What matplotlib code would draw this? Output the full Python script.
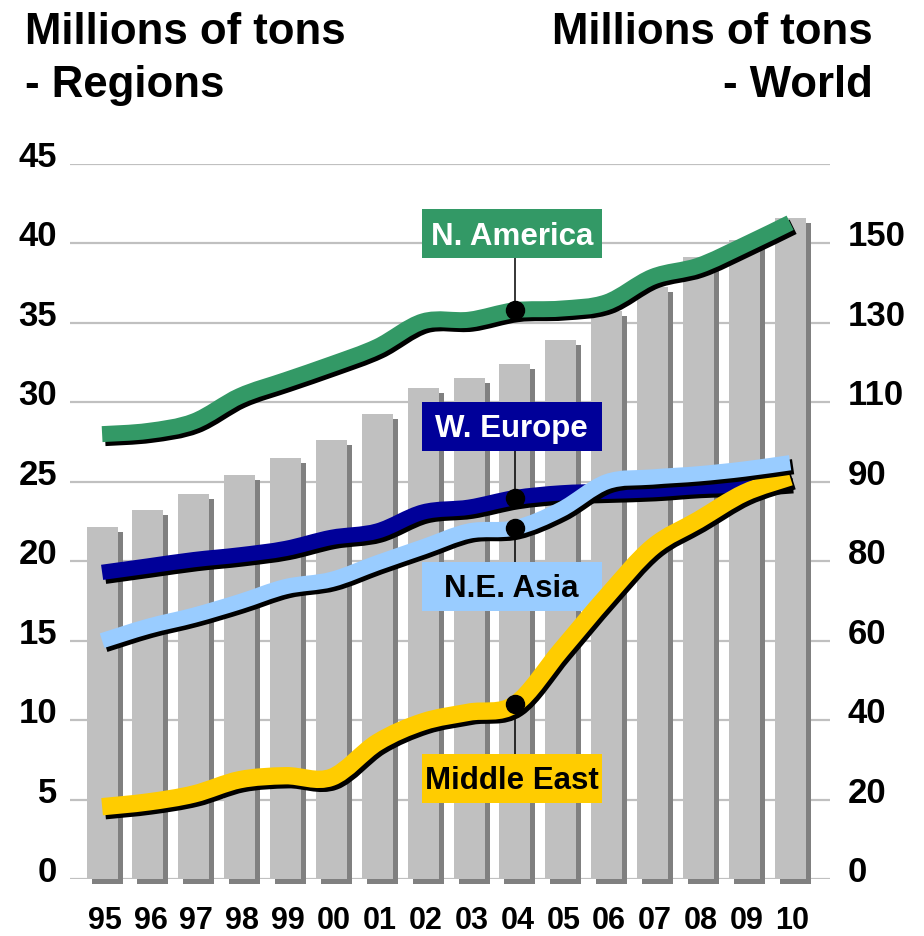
import numpy as np
import matplotlib
matplotlib.use("Agg")
import matplotlib.pyplot as plt
from matplotlib.path import Path
from matplotlib.patches import PathPatch, Rectangle
from matplotlib.transforms import (ScaledTranslation, Affine2D, offset_copy,
                                   blended_transform_factory)

# ---- data -------------------------------------------------------------
years = ["95", "96", "97", "98", "99", "00", "01", "02",
         "03", "04", "05", "06", "07", "08", "09", "10"]

# world total (right axis, bars)
world = [88.7, 92.8, 96.8, 101.8, 105.9, 110.4, 117.0, 123.5,
         126.2, 129.6, 135.6, 143.0, 149.0, 156.6, 160.9, 166.5]

# regional series (left axis, lines)
n_america = [28.0, 28.2, 28.8, 30.4, 31.4, 32.4, 33.5, 35.1,
             35.2, 35.8, 35.9, 36.3, 37.9, 38.6, 39.9, 41.3]
w_europe = [19.3, 19.7, 20.1, 20.4, 20.8, 21.5, 21.9, 23.1,
            23.4, 24.0, 24.3, 24.4, 24.5, 24.7, 24.8, 25.0]
ne_asia = [15.0, 15.9, 16.6, 17.45, 18.4, 18.85, 19.9, 20.9,
           21.9, 22.1, 23.25, 25.0, 25.3, 25.5, 25.8, 26.2]
middle_east = [4.55, 4.85, 5.35, 6.25, 6.5, 6.4, 8.6, 9.9,
               10.5, 11.0, 14.4, 17.8, 20.9, 22.6, 24.3, 25.3]

left_ticks = [0, 5, 10, 15, 20, 25, 30, 35, 40, 45]
right_tick_labels = ["0", "20", "40", "60", "80", "90", "110", "130", "150"]

region_names = ["N. America", "W. Europe", "N.E. Asia", "Middle East"]

# ---- styling / layout -------------------------------------------------
plt.rcParams['font.family'] = ['Liberation Sans', 'DejaVu Sans']
plt.rcParams['font.weight'] = 'bold'

W, H = 924, 936
fig = plt.figure(figsize=(W / 100, H / 100), dpi=100)
fig.patch.set_facecolor('white')

L, R, B, T = 70, 830, 879, 164
ax = fig.add_axes([L / W, (H - B) / H, (R - L) / W, (B - T) / H])
ax2 = ax.twinx()
ax.set_zorder(2)
ax.patch.set_visible(False)

x = np.arange(len(years))
dots = lambda dx, dy: ScaledTranslation(dx / 100, dy / 100, fig.dpi_scale_trans)

# bars with a drop shadow
bar_w = 0.676
shadow = ax2.bar(x, world, width=bar_w, color='#808080', zorder=2)
for p in shadow:
    p.set_transform(ax2.transData + dots(5, -5))
    p.set_clip_on(False)
ax2.bar(x, world, width=bar_w, color='#c0c0c0', zorder=3)

ax2.set_yticks(np.arange(0, 181, 20))
ax2.grid(axis='y', color='#c0c0c0', lw=1.6)
ax2.set_axisbelow(True)
ax2.tick_params(right=False, labelright=False, length=0)

for a in (ax, ax2):
    for s in a.spines.values():
        s.set_visible(False)
ax.tick_params(left=False, labelleft=False, bottom=False, labelbottom=False)


def smooth_path(xs, ys):
    pts = np.column_stack([xs, ys]).astype(float)
    ext = np.vstack([pts[0], pts, pts[-1]])
    verts = [pts[0]]
    codes = [Path.MOVETO]
    for i in range(len(pts) - 1):
        p0, p1, p2, p3 = ext[i], ext[i + 1], ext[i + 2], ext[i + 3]
        verts += [p1 + (p2 - p0) / 6, p2 - (p3 - p1) / 6, p2]
        codes += [Path.CURVE4] * 3
    return Path(verts, codes)


series = {
    "W. Europe": (w_europe, '#000099', 11.0),
    "Middle East": (middle_east, '#ffcc00', 12.5),
    "N.E. Asia": (ne_asia, '#99ccff', 11.0),
    "N. America": (n_america, '#339966', 11.5),
}
z = 5
for name, (vals, col, lw) in series.items():
    path = smooth_path(x, vals)
    ax.add_patch(PathPatch(path, fill=False, ec='black', lw=lw, capstyle='butt',
                           joinstyle='round', transform=ax.transData + dots(3, -4),
                           zorder=z))
    ax.add_patch(PathPatch(path, fill=False, ec=col, lw=lw, capstyle='butt',
                           joinstyle='round', zorder=z + 0.1))
    z += 1

# callout labels with leader lines to the 2004 points
mark = 9
label_layout = {
    "N. America": (40.6, '#339966', 'white'),
    "W. Europe": (28.5, '#000099', 'white'),
    "N.E. Asia": (18.43, '#99ccff', 'black'),
    "Middle East": (6.33, '#ffcc00', 'black'),
}
for name in region_names:
    yb, fc, tc = label_layout[name]
    vals = series[name][0]
    ax.plot([mark, mark], [vals[mark], yb], color='black', lw=1.1, zorder=3)
    tr = Affine2D() + ScaledTranslation(mark - 0.07, yb, ax.transData)
    ax.add_artist(Rectangle((-90, -24.5), 180, 49, transform=tr, fc=fc,
                            ec='none', zorder=3.5, clip_on=False))
    ax.text(mark - 0.07, yb, name,
            transform=offset_copy(ax.transData, fig=fig, x=0, y=-11, units='dots'),
            ha='center', va='baseline', fontsize=22.5, color=tc, zorder=3.6)
    ax.plot([mark], [vals[mark]], 'o', color='black', ms=13, zorder=10)

ax.set_xlim(-0.70, 15.87)
ax.set_ylim(0, 45)
ax2.set_ylim(0, 180)

# axis labels
yblend = blended_transform_factory(ax.transAxes, ax.transData)
for v in left_ticks:
    ax.text(0, v, str(v), transform=offset_copy(yblend, fig=fig, x=-13, y=-3, units='dots'),
            ha='right', va='baseline', fontsize=25)
for v, lbl in zip(left_ticks, right_tick_labels):
    ax.text(1, v, lbl, transform=offset_copy(yblend, fig=fig, x=18, y=-3, units='dots'),
            ha='left', va='baseline', fontsize=25)
for i, yr in enumerate(years):
    ax.text(i, 0, yr, transform=offset_copy(ax.transData, fig=fig, x=2.5, y=-50, units='dots'),
            ha='center', va='baseline', fontsize=22)

fig.text(25 / W, 1 - 44 / H, "Millions of tons", fontsize=31.5, ha='left', va='baseline')
fig.text(25 / W, 1 - 97 / H, "- Regions", fontsize=31.5, ha='left', va='baseline')
fig.text(873 / W, 1 - 44 / H, "Millions of tons", fontsize=31.5, ha='right', va='baseline')
fig.text(873 / W, 1 - 97 / H, "- World", fontsize=31.5, ha='right', va='baseline')

fig.savefig("out.png", dpi=100)
